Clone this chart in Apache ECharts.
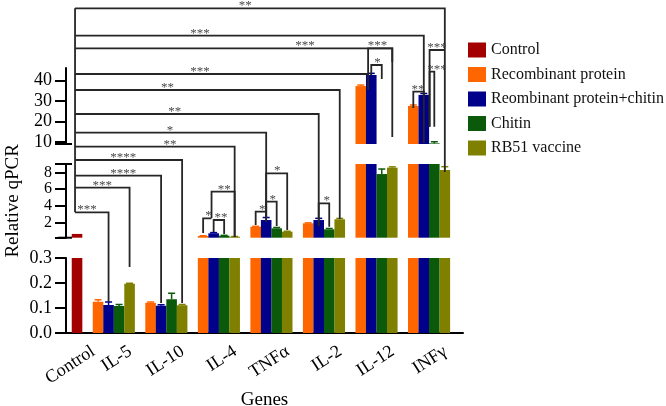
<!DOCTYPE html>
<html><head><meta charset="utf-8">
<script src="https://cdn.jsdelivr.net/npm/echarts@6/dist/echarts.min.js"></script>
<style>html,body{margin:0;padding:0;background:#fff}#c{width:666px;height:406px}</style>
</head><body><div id="c"></div>
<script>
// ---------- data ----------
const categories = ['Control', 'IL-5', 'IL-10', 'IL-4', 'TNFα', 'IL-2', 'IL-12', 'INFγ'];
const seriesNames = ['Control', 'Recombinant protein', 'Reombinant protein+chitin', 'Chitin', 'RB51 vaccine'];
const colors = ['#a30000', '#ff6600', '#00008a', '#0b5a0b', '#808000'];
const controlValue = 0.65;
//                 IL-5   IL-10  IL-4  TNFα  IL-2  IL-12 INFγ
const recombinant       = [0.125, 0.121, 0.40, 1.51, 1.92, 37.2, 27.5];
const recombinantChitin = [0.112, 0.109, 0.73, 2.31, 2.31, 42.6, 32.9];
const chitin            = [0.108, 0.135, 0.44, 1.32, 1.20, 7.8, 9.3];
const rb51              = [0.197, 0.111, 0.32, 0.92, 2.40, 8.56, 8.28];
const recombinantErr       = [0.008, 0.003, 0.03, 0.05, 0.05, 0.5, 0.5];
const recombinantChitinErr = [0.012, 0.004, 0.08, 0.30, 0.20, 0.8, 0.7];
const chitinErr            = [0.006, 0.024, 0.04, 0.10, 0.10, 0.6, 0.8];
const rb51Err              = [0.002, 0.003, 0.02, 0.05, 0.10, 0.1, 0.4];
const bottomTicks = [0, 0.1, 0.2, 0.3];
const middleTicks = [2, 4, 6, 8];
const topTicks = [10, 20, 30, 40];
// axis segments [min, max]
const segBottom = [0, 0.3], segMiddle = [0.2, 9], segTop = [9, 46];

// ---------- layout helpers ----------
const genes = categories.slice(1);
const treatValues = [recombinant, recombinantChitin, chitin, rb51];
const treatErrors = [recombinantErr, recombinantChitinErr, chitinErr, rb51Err];
const X_MIN = -1.05, X_MAX = 36.73;
const slot = (g, t) => 2 + 5 * g + t;          // bar slot of gene g, treatment t
const LABEL_SHIFT = 1.55;
const labelSlots = categories.map((c, i) => (i === 0 ? 0 : slot(i - 1, 1.5)) + LABEL_SHIFT);
const FONT = '"Liberation Serif", "Times New Roman", serif';

function barData(k) {
  if (k === 0) return [[0, controlValue]];
  return genes.map((g, i) => [slot(i, k - 1), treatValues[k - 1][i]]);
}
function errData() {
  const out = [];
  genes.forEach((g, i) => treatValues.forEach((arr, t) => out.push([slot(i, t), arr[i], treatErrors[t][i], t + 1])));
  return out;
}

// significance brackets: [label, labelSlot, level(row), leftSlot, leftBottom, rightSlot, rightBottom]
const C0 = -0.19;
const brackets = [
  ['', 0, 8.3, C0, 212.3, C0, 8.3],
  ['**', 16.0, 8.3, C0, 8.3, slot(6, 3), 172],
  ['***', 11.7, 35.7, C0, 35.7, slot(6, 1), 143],
  ['***', 21.7, 48.3, C0, 48.3, slot(5, 3), 137],
  ['***', 28.6, 48.3, slot(5, 1) - 0.3, 74, slot(5, 3), 62],
  ['*', 28.6, 65, slot(5, 1), 75, slot(5, 2), 79],
  ['***', 11.7, 74, C0, 74, slot(5, 1) - 0.3, 90],
  ['**', 8.6, 90, C0, 90, slot(4, 3), 219],
  ['**', 9.3, 114, C0, 114, slot(4, 1), 226],
  ['*', 8.85, 132.7, C0, 132.7, slot(3, 1), 222],
  ['**', 8.85, 146.7, C0, 146.7, slot(2, 3), 237],
  ['****', 4.4, 160, C0, 160, slot(1, 3), 303],
  ['****', 4.4, 175.7, C0, 175.7, slot(1, 1), 303],
  ['***', 2.4, 187.7, C0, 187.7, slot(0, 3), 267],
  ['***', 0.95, 212.3, C0, 212.3, slot(0, 1), 302],
  ['**', 32.45, 91.7, slot(6, 0), 108, slot(6, 1), 95],
  ['***', 34.25, 50, 33.55, 126.7, slot(6, 3), 50],
  ['***', 34.25, 71.7, 33.55, 126.7, slot(6, 2), 126.7],
  ['**', 14.0, 191.7, slot(2, 1) - 0.2, 218, slot(2, 3), 237],
  ['*', 12.5, 218.3, slot(2, 0), 233, slot(2, 1) - 0.2, 218.3],
  ['**', 13.7, 220, slot(2, 1), 232, slot(2, 2), 234],
  ['*', 19.06, 173.3, slot(3, 1), 218, slot(3, 3), 230],
  ['*', 18.62, 201.7, slot(3, 1), 218, slot(3, 2), 226],
  ['*', 17.63, 211.7, slot(3, 0), 225, slot(3, 1), 211.7],
  ['*', 23.76, 203.3, slot(4, 1), 219, slot(4, 2), 226.7]
];

// ---------- chart ----------
const chart = echarts.init(document.getElementById('c'), null, { renderer: 'canvas' });
const grids = [
  { left: 66, right: 203, top: 258, bottom: 73, outerBoundsMode: 'none', containLabel: false },
  { left: 66, right: 203, top: 164, bottom: 168.3, outerBoundsMode: 'none', containLabel: false },
  { left: 66, right: 203, top: 68, bottom: 262, outerBoundsMode: 'none', containLabel: false },
  { left: 66, right: 203, top: 0, bottom: 73, outerBoundsMode: 'none', containLabel: false }
];
const xAxes = grids.map((g, i) => ({
  type: 'value', gridIndex: i, min: X_MIN, max: X_MAX, show: i === 0,
  splitLine: { show: false }, axisTick: { show: false },
  axisLine: { show: i === 0, onZero: false, lineStyle: { color: '#000', width: 2 } },
  axisLabel: {
    show: i === 0, customValues: labelSlots, rotate: 33, margin: 17,
    showMinLabel: true, showMaxLabel: true, hideOverlap: false,
    color: '#000', fontSize: 18, fontFamily: FONT,
    formatter: v => { const k = labelSlots.findIndex(x => Math.abs(x - v) < 1e-6); return k >= 0 ? categories[k] : ''; }
  },
  name: i === 0 ? 'Genes' : '', nameLocation: 'middle', nameGap: 56,
  nameTextStyle: { color: '#000', fontSize: 19, fontFamily: FONT }
}));
const yCommon = {
  type: 'value', splitLine: { show: false },
  axisLine: { show: true, onZero: false, lineStyle: { color: '#000', width: 2 } },
  axisTick: { show: true, length: 11, lineStyle: { color: '#000', width: 2 } },
  axisLabel: { color: '#000', fontSize: 16, fontFamily: FONT, margin: 14,
    showMinLabel: true, showMaxLabel: true, hideOverlap: false }
};
const yAxes = [
  Object.assign({}, yCommon, { gridIndex: 0, min: segBottom[0], max: segBottom[1], interval: 0.1,
    axisTick: Object.assign({}, yCommon.axisTick, { customValues: bottomTicks }),
    axisLabel: Object.assign({}, yCommon.axisLabel, { fontSize: 18, customValues: bottomTicks, formatter: v => v.toFixed(1) }) }),
  Object.assign({}, yCommon, { gridIndex: 1, min: segMiddle[0], max: segMiddle[1],
    axisTick: Object.assign({}, yCommon.axisTick, { customValues: [segMiddle[0]].concat(middleTicks, [segMiddle[1]]) }),
    axisLabel: Object.assign({}, yCommon.axisLabel, { customValues: middleTicks, formatter: v => String(v) }),
    name: 'Relative qPCR', nameLocation: 'middle', nameGap: 43, nameRotate: 90,
    nameTextStyle: { color: '#000', fontSize: 19, fontFamily: FONT } }),
  Object.assign({}, yCommon, { gridIndex: 2, min: segTop[0], max: segTop[1],
    axisTick: Object.assign({}, yCommon.axisTick, { customValues: [segTop[0]].concat(topTicks) }),
    axisLabel: Object.assign({}, yCommon.axisLabel, { fontSize: 18, customValues: topTicks, formatter: v => String(v) }) }),
  { type: 'value', gridIndex: 3, min: 0, max: 333, inverse: true, show: false }
];

const series = [];
[0, 1, 2].forEach(gi => {
  seriesNames.forEach((name, k) => {
    series.push({
      type: 'bar', name, xAxisIndex: gi, yAxisIndex: gi, barWidth: 10.6, barGap: '-100%',
      clip: true, silent: true, data: barData(k), itemStyle: { color: colors[k] }
    });
  });
  series.push({
    type: 'custom', name: 'err' + gi, xAxisIndex: gi, yAxisIndex: gi, silent: true, clip: false,
    data: errData(),
    renderItem(params, api) {
      const x = api.value(0), v = api.value(1), e = api.value(2), ci = api.value(3);
      if (!(e > 0)) return null;
      const cs = params.coordSys;
      const p0 = api.coord([x, v]), p1 = api.coord([x, v + e]);
      const yT = cs.y, yB = cs.y + cs.height;
      const ya = Math.min(Math.max(p0[1], yT), yB), yb = Math.min(Math.max(p1[1], yT), yB);
      if (Math.abs(ya - yb) < 0.01) return null;
      const st = { stroke: colors[ci], lineWidth: 1.5 };
      const ch = [{ type: 'line', shape: { x1: p0[0], y1: ya, x2: p0[0], y2: yb }, style: st }];
      if (p1[1] >= yT && p1[1] <= yB) ch.push({ type: 'line', shape: { x1: p0[0] - 3.5, y1: p1[1], x2: p0[0] + 3.5, y2: p1[1] }, style: st });
      return { type: 'group', children: ch };
    }
  });
});
series.push({
  type: 'custom', name: 'brackets', xAxisIndex: 3, yAxisIndex: 3, silent: true, clip: false, z: 5,
  data: brackets.map(b => [b[1], b[2]]),
  renderItem(params, api) {
    const b = brackets[params.dataIndex];
    const pts = [[b[3], b[4]], [b[3], b[2]], [b[5], b[2]], [b[5], b[6]]].map(p => api.coord(p));
    const ch = [{ type: 'polyline', shape: { points: pts }, style: { stroke: '#262626', lineWidth: 1.8, fill: null } }];
    if (b[0]) {
      const lp = api.coord([b[1], b[2] - 2.5]);
      ch.push({ type: 'text', style: { text: b[0], x: lp[0], y: lp[1], align: 'center', verticalAlign: 'middle',
        font: '13px ' + FONT, fill: '#4a4a4a' } });
    }
    return { type: 'group', children: ch };
  }
});

chart.setOption({
  animation: false,
  backgroundColor: '#fff',
  grid: grids,
  xAxis: xAxes,
  yAxis: yAxes,
  legend: {
    data: seriesNames, orient: 'vertical', left: 463, top: 37, icon: 'rect',
    itemWidth: 18, itemHeight: 15, itemGap: 8.5, selectedMode: false,
    textStyle: { color: '#111', fontSize: 16, fontFamily: FONT }
  },
  series
});

// segment break caps
const spineX = chart.convertToPixel({ xAxisIndex: 0 }, X_MIN);
const capYs = [
  chart.convertToPixel({ yAxisIndex: 2 }, segTop[0]),
  chart.convertToPixel({ yAxisIndex: 1 }, segMiddle[1]),
  chart.convertToPixel({ yAxisIndex: 1 }, segMiddle[0])
];
chart.setOption({
  graphic: capYs.map(y => ({ type: 'line', shape: { x1: spineX - 8, y1: y, x2: spineX + 6, y2: y },
    style: { stroke: '#000', lineWidth: 2 }, silent: true }))
});
</script>
</body></html>
